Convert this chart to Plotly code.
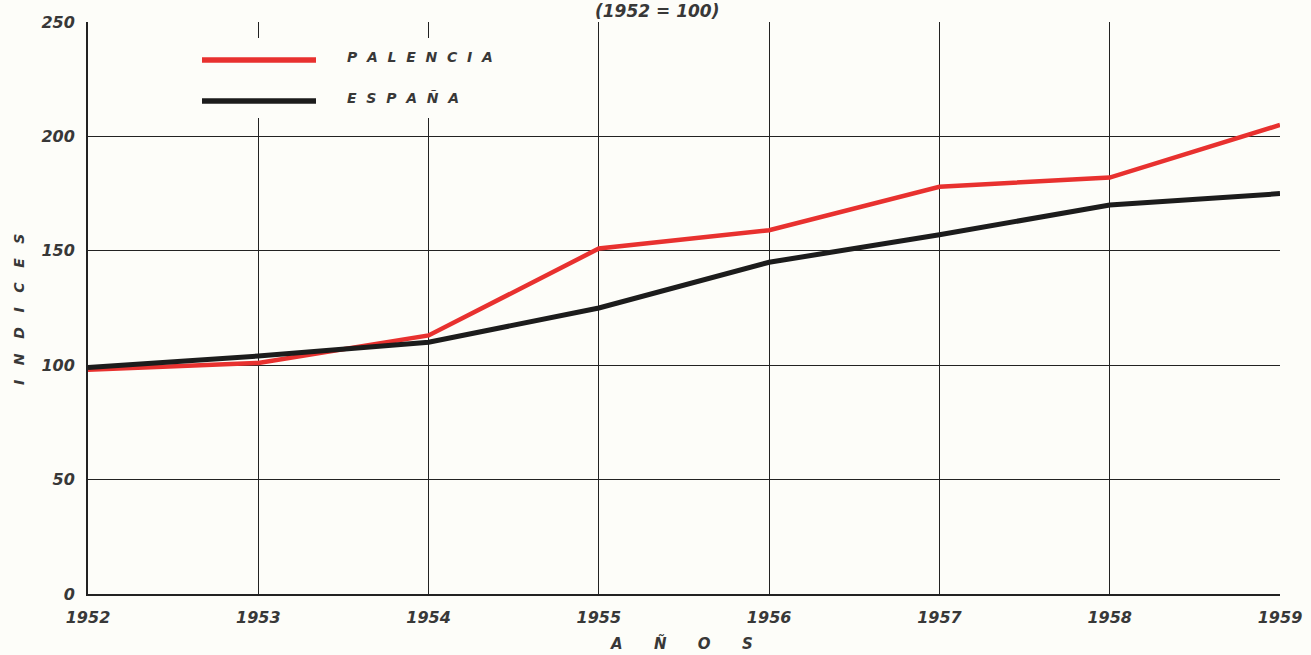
import plotly.graph_objects as go

# Index values (1952 = 100)
years = [1952, 1953, 1954, 1955, 1956, 1957, 1958, 1959]
palencia = [98, 101, 113, 151, 159, 178, 182, 205]
espana = [99, 104, 110, 125, 145, 157, 170, 175]

y_ticks = [0, 50, 100, 150, 200, 250]
series_names = ["PALENCIA", "ESPAÑA"]
series_colors = ["#e8312f", "#1c1c1c"]

FONT = "DejaVu Sans"
INK = "#383838"
BG = "#fdfdf9"
W, H = 1311, 655
ML, MR, MT, MB = 88, 31, 22, 61
PH = H - MT - MB
PW = W - ML - MR
NB = "\u00a0"


def spaced(word, gap):
    return (NB * gap).join(word)


def py(p):
    """pixel row -> paper y"""
    return (H - MB - p) / PH


def px(p):
    """pixel column -> paper x"""
    return (p - ML) / PW


def txt(size):
    return dict(family=FONT, size=size, color=INK, style="italic", weight="bold")


fig = go.Figure()
fig.add_trace(go.Scatter(x=years, y=palencia, mode="lines", name=series_names[0],
                         line=dict(color=series_colors[0], width=4.5), showlegend=False))
fig.add_trace(go.Scatter(x=years, y=espana, mode="lines", name=series_names[1],
                         line=dict(color=series_colors[1], width=5), showlegend=False))

# legend panel: blank box over the grid, sample lines and labels
shapes = [
    dict(type="rect", xref="paper", yref="paper", x0=px(190), x1=px(500), y0=py(118), y1=py(38),
         fillcolor=BG, line=dict(width=0), layer="above"),
]
annotations = []
for i, (name, col) in enumerate(zip(series_names, series_colors)):
    yy = py(60 + 41 * i)
    shapes.append(dict(type="line", xref="paper", yref="paper", x0=px(202), x1=px(316),
                       y0=yy, y1=yy, line=dict(color=col, width=5.5), layer="above"))
    annotations.append(dict(text=spaced(name, 2), xref="paper", yref="paper", x=px(345), y=yy + 0.006,
                            xanchor="left", yanchor="middle", showarrow=False, font=txt(14)))

annotations += [
    dict(text="(1952 = 100)", xref="paper", yref="paper", x=px(657), y=py(11),
         xanchor="center", yanchor="middle", showarrow=False, font=txt(17)),
    dict(text=spaced("AÑOS", 6), xref="paper", yref="paper", x=px(681), y=py(643),
         xanchor="center", yanchor="middle", showarrow=False, font=txt(15)),
    dict(text=spaced("INDICES", 3), xref="paper", yref="paper", x=px(19), y=py(310),
         xanchor="center", yanchor="middle", showarrow=False, textangle=-90, font=txt(14)),
]

fig.update_layout(
    width=W, height=H,
    margin=dict(l=ML, r=MR, t=MT, b=MB),
    paper_bgcolor=BG, plot_bgcolor=BG,
    shapes=shapes, annotations=annotations,
    font=txt(16),
    xaxis=dict(range=[1952, 1959], tickmode="array", tickvals=years,
               ticktext=[str(y) for y in years], showgrid=True, gridcolor="#222",
               gridwidth=1.2, zeroline=False, showline=True, linecolor="#222",
               linewidth=2, mirror=False, ticks="", ticklabelstandoff=8,
               automargin=False),
    yaxis=dict(range=[0, 250], tickmode="array", tickvals=y_ticks,
               showgrid=True, gridcolor="#222", gridwidth=1.2, zeroline=False,
               showline=True, linecolor="#222", linewidth=2, ticks="",
               ticklabelstandoff=8, automargin=False),
)

fig.write_html("out.html")
